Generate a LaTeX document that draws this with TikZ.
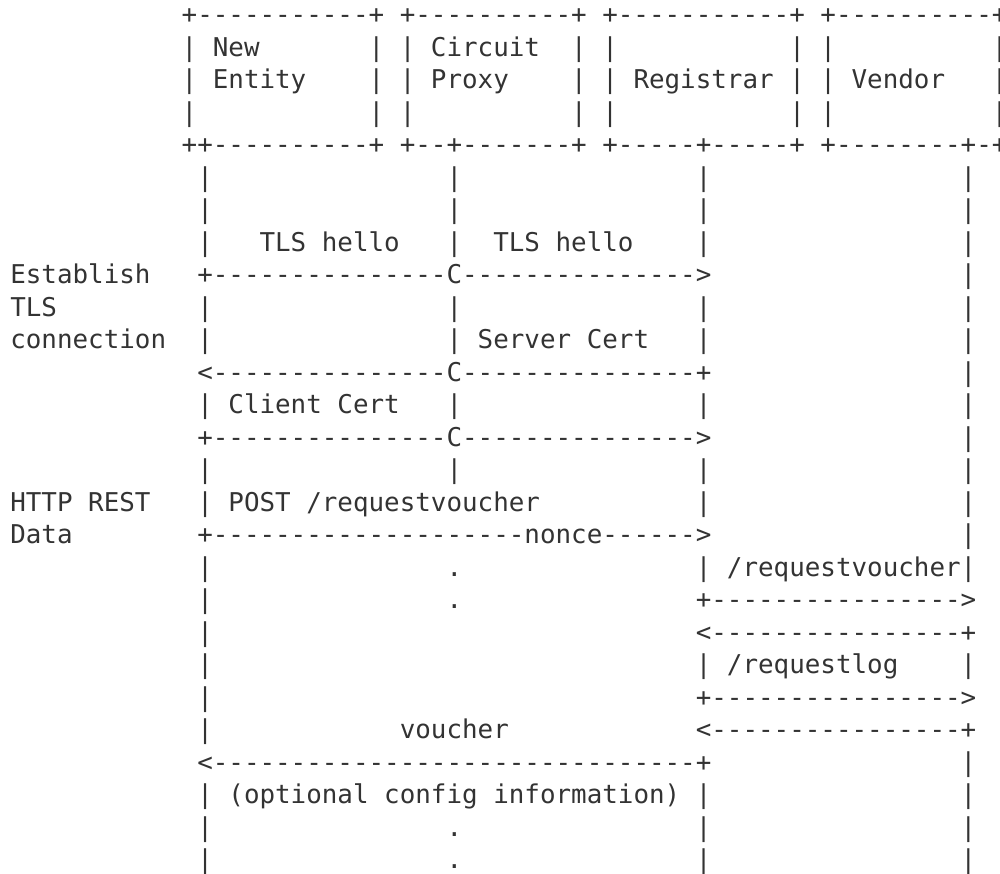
\documentclass[tikz,border=0pt]{standalone}
\usepackage{fontspec}
\setmonofont{DejaVu Sans Mono}
\definecolor{ink}{HTML}{333333}
\newcommand\putseg[3]{\node[txt] (r#1c#2) at ({10.3+#2*15.58},{23.5+(#1-1)*32.5}) {#3};}
\begin{document}
\begin{tikzpicture}[x=0.5pt,y=-0.5pt,
  txt/.style={anchor=base west, inner sep=0pt, outer sep=0pt, text=ink,
    font=\ttfamily\fontsize{12.94pt}{15pt}\selectfont}]
\useasboundingbox (0,0) rectangle (1000,873);
% participant boxes
\putseg{1}{11}{+-----------+ +----------+ +-----------+ +----------+}
\putseg{2}{11}{| New}
\putseg{2}{23}{| | Circuit}
\putseg{2}{36}{| |}
\putseg{2}{50}{| |}
\putseg{2}{63}{|}
\putseg{3}{11}{| Entity}
\putseg{3}{23}{| | Proxy}
\putseg{3}{36}{| | Registrar | | Vendor}
\putseg{3}{63}{|}
\putseg{4}{11}{|}
\putseg{4}{23}{| |}
\putseg{4}{36}{| |}
\putseg{4}{50}{| |}
\putseg{4}{63}{|}
\putseg{5}{11}{++----------+ +--+-------+ +-----+-----+ +--------+-+}
% lifelines
\putseg{6}{12}{|}\putseg{6}{28}{|}\putseg{6}{44}{|}\putseg{6}{61}{|}
\putseg{7}{12}{|}\putseg{7}{28}{|}\putseg{7}{44}{|}\putseg{7}{61}{|}
\putseg{8}{12}{|}\putseg{8}{16}{TLS hello}\putseg{8}{28}{|}\putseg{8}{31}{TLS hello}\putseg{8}{44}{|}\putseg{8}{61}{|}
\putseg{9}{0}{Establish}\putseg{9}{12}{+---------------C--------------->}\putseg{9}{61}{|}
\putseg{10}{0}{TLS}\putseg{10}{12}{|}\putseg{10}{28}{|}\putseg{10}{44}{|}\putseg{10}{61}{|}
\putseg{11}{0}{connection}\putseg{11}{12}{|}\putseg{11}{28}{| Server Cert}\putseg{11}{44}{|}\putseg{11}{61}{|}
\putseg{12}{12}{<---------------C---------------+}\putseg{12}{61}{|}
\putseg{13}{12}{| Client Cert}\putseg{13}{28}{|}\putseg{13}{44}{|}\putseg{13}{61}{|}
\putseg{14}{12}{+---------------C--------------->}\putseg{14}{61}{|}
\putseg{15}{12}{|}\putseg{15}{28}{|}\putseg{15}{44}{|}\putseg{15}{61}{|}
\putseg{16}{0}{HTTP REST}\putseg{16}{12}{| POST /requestvoucher}\putseg{16}{44}{|}\putseg{16}{61}{|}
\putseg{17}{0}{Data}\putseg{17}{12}{+--------------------nonce------>}\putseg{17}{61}{|}
\putseg{18}{12}{|}\putseg{18}{28}{.}\putseg{18}{44}{| /requestvoucher|}
\putseg{19}{12}{|}\putseg{19}{28}{.}\putseg{19}{44}{+---------------->}
\putseg{20}{12}{|}\putseg{20}{44}{<----------------+}
\putseg{21}{12}{|}\putseg{21}{44}{| /requestlog}\putseg{21}{61}{|}
\putseg{22}{12}{|}\putseg{22}{44}{+---------------->}
\putseg{23}{12}{|}\putseg{23}{25}{voucher}\putseg{23}{44}{<----------------+}
\putseg{24}{12}{<-------------------------------+}\putseg{24}{61}{|}
\putseg{25}{12}{| (optional config information) |}\putseg{25}{61}{|}
\putseg{26}{12}{|}\putseg{26}{28}{.}\putseg{26}{44}{|}\putseg{26}{61}{|}
\putseg{27}{12}{|}\putseg{27}{28}{.}\putseg{27}{44}{|}\putseg{27}{61}{|}
\end{tikzpicture}
\end{document}
